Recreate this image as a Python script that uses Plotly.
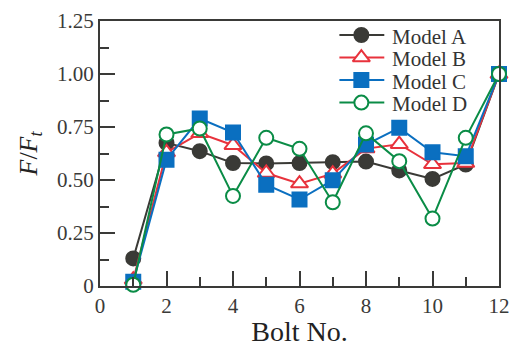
import plotly.graph_objects as go

bolts = [1, 2, 3, 4, 5, 6, 7, 8, 9, 10, 11, 12]
model_a = [0.13, 0.675, 0.636, 0.58, 0.578, 0.58, 0.584, 0.587, 0.545, 0.505, 0.573, 1.0]
model_b = [0.03, 0.63, 0.72, 0.664, 0.533, 0.483, 0.53, 0.648, 0.669, 0.574, 0.58, 1.0]
model_c = [0.02, 0.596, 0.79, 0.724, 0.478, 0.408, 0.499, 0.667, 0.746, 0.631, 0.612, 1.0]
model_d = [0.006, 0.715, 0.743, 0.425, 0.699, 0.647, 0.395, 0.72, 0.589, 0.318, 0.699, 1.0]
names = ["Model A", "Model B", "Model C", "Model D"]
x_ticks = [0, 2, 4, 6, 8, 10, 12]
y_ticks = [0, 0.25, 0.5, 0.75, 1.0, 1.25]
y_tick_labels = ["0", "0.25", "0.50", "0.75", "1.00", "1.25"]

FONT = "Liberation Serif, Times New Roman, serif"
AX = "#3a3a38"

styles = [
    dict(color="#3a3a36", symbol="circle", fill="#3a3a36", size=14),
    dict(color="#e8323c", symbol="triangle-up", fill="white", size=15),
    dict(color="#0a6fc0", symbol="square", fill="#0a6fc0", size=14),
    dict(color="#0a8c46", symbol="circle", fill="white", size=14),
]

fig = go.Figure()
for name, vals, st in zip(names, [model_a, model_b, model_c, model_d], styles):
    fig.add_trace(go.Scatter(
        x=bolts, y=vals, name=name, mode="lines+markers", showlegend=False,
        line=dict(color=st["color"], width=2),
        marker=dict(symbol=st["symbol"], size=st["size"], color=st["fill"],
                    line=dict(color=st["color"], width=2)),
        cliponaxis=False,
    ))

# Legend drawn in an overlay axis pair (x 0..400 left->right, y 0..264.6 top->bottom)
leg_rows = [14, 36.5, 59, 81.5]
for name, st, ry in zip(names, styles, leg_rows):
    fig.add_trace(go.Scatter(
        x=[240, 262, 285], y=[ry, ry, ry], mode="lines+markers",
        xaxis="x2", yaxis="y2", showlegend=False, hoverinfo="skip",
        line=dict(color=st["color"], width=2),
        marker=dict(symbol=st["symbol"], size=st["size"], color=st["fill"],
                    opacity=[0, 1, 0], line=dict(color=st["color"], width=2)),
        cliponaxis=False,
    ))
    fig.add_annotation(x=291, y=ry + 1.5, xref="x2", yref="y2", text=name,
                       showarrow=False, xanchor="left", yanchor="middle",
                       font=dict(size=21, family=FONT, color="#333"))

fig.add_annotation(x=0, y=0.5, xref="paper", yref="paper", xshift=-71,
                   text="<i>F</i>/<i>F</i><sub><i>t</i></sub>", textangle=-90,
                   showarrow=False, xanchor="center", yanchor="middle",
                   font=dict(size=26, family=FONT, color="#222"))

fig.update_layout(
    template="none",
    width=509, height=339,
    margin=dict(l=91.5, r=18, t=13, b=61, pad=0),
    paper_bgcolor="white", plot_bgcolor="white",
    font=dict(family=FONT, color="#3a3a38", size=20),
    showlegend=False,
    xaxis=dict(range=[0, 12], tickmode="array", tickvals=x_ticks,
               ticks="inside", ticklen=15, tickwidth=1.5, tickcolor=AX,
               showline=True, linecolor=AX, linewidth=2, mirror=False,
               showgrid=False, zeroline=False, automargin=False,
               minor=dict(dtick=1, tick0=0, ticks="inside", ticklen=9,
                          tickwidth=1.5, tickcolor=AX, showgrid=False),
               title=dict(text="Bolt No.", font=dict(size=28, family=FONT,
                                                      color="#222"), standoff=5),
               tickfont=dict(size=21)),
    yaxis=dict(range=[0, 1.25], tickmode="array", tickvals=y_ticks,
               ticktext=y_tick_labels,
               ticks="inside", ticklen=15, tickwidth=1.5, tickcolor=AX,
               showline=True, linecolor=AX, linewidth=2, mirror=False,
               showgrid=False, zeroline=False, automargin=False,
               minor=dict(dtick=0.125, tick0=0, ticks="inside", ticklen=9,
                          tickwidth=1.5, tickcolor=AX, showgrid=False),
               tickfont=dict(size=21)),
    # overlay axes: frame lines on top and right, plus the legend's coordinate space
    xaxis2=dict(range=[0, 400], overlaying="x", side="top", showline=True,
                linecolor=AX, linewidth=2, ticks="", showticklabels=False,
                showgrid=False, zeroline=False, fixedrange=True, automargin=False),
    yaxis2=dict(range=[264.6, 0], overlaying="y", side="right", showline=True,
                linecolor=AX, linewidth=2, ticks="", showticklabels=False,
                showgrid=False, zeroline=False, fixedrange=True, automargin=False),
)

fig.write_html("out.html")
